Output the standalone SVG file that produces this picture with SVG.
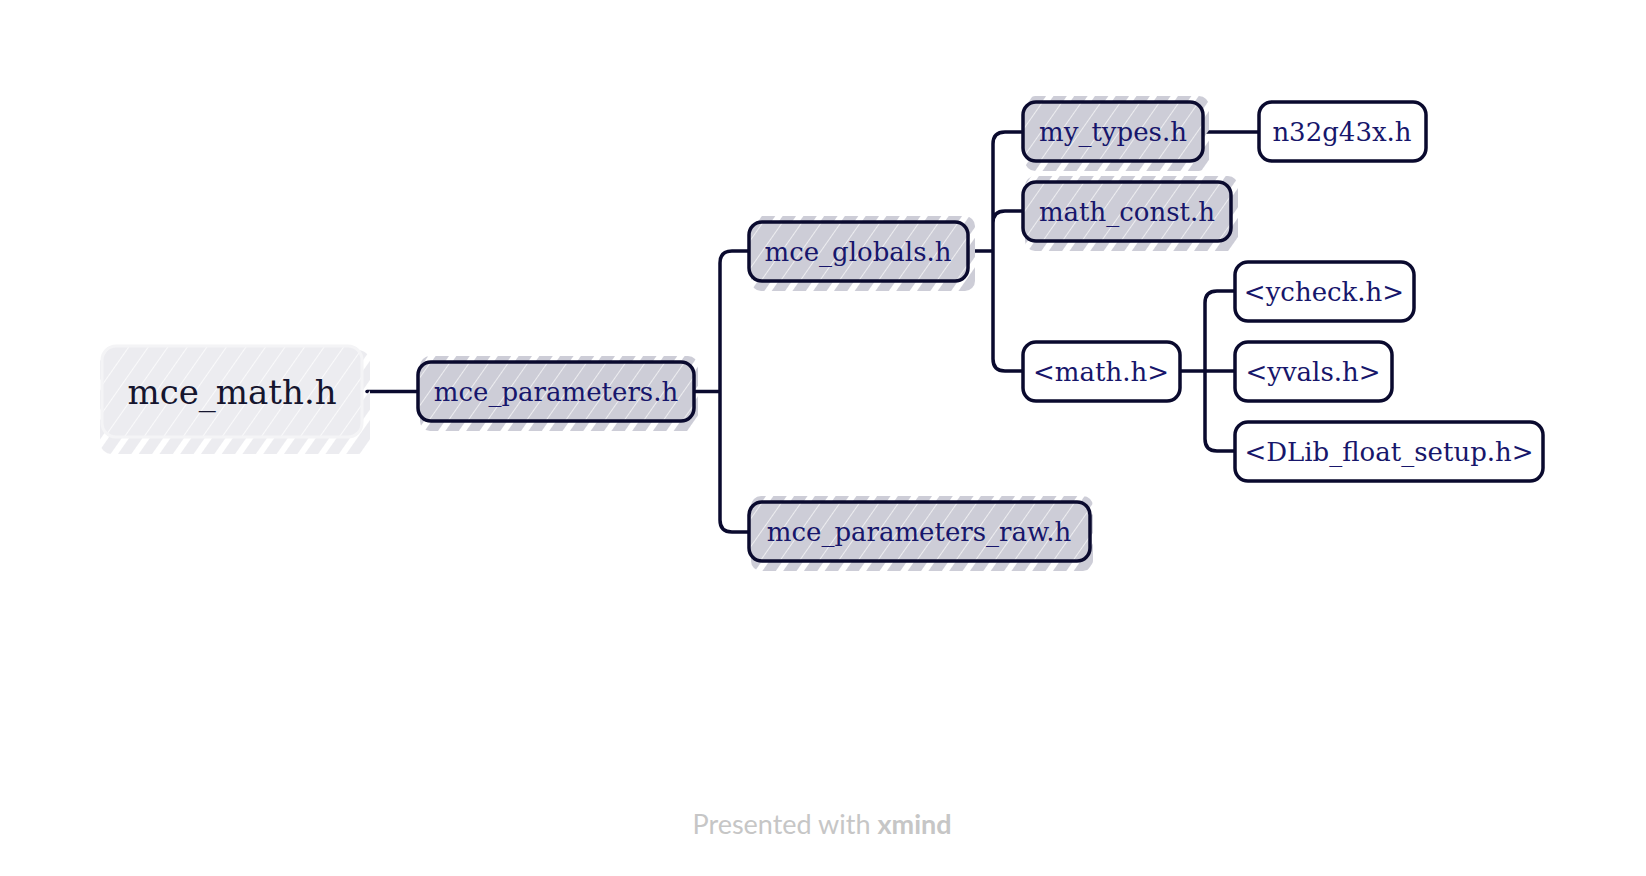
<svg xmlns="http://www.w3.org/2000/svg" width="1646" height="876" viewBox="0 0 1646 876">
<defs>
<pattern id="hatch" patternUnits="userSpaceOnUse" width="16" height="16" patternTransform="rotate(35)">
<rect width="16" height="16" fill="#cdcdd7"/>
<line x1="0" y1="0" x2="0" y2="16" stroke="#ffffff" stroke-width="1.6" opacity="0.8"/>
</pattern>
<pattern id="strip" patternUnits="userSpaceOnUse" width="17" height="17" patternTransform="rotate(35)">
<rect width="11" height="17" fill="#cdcdd7"/>
</pattern>
<pattern id="stripRoot" patternUnits="userSpaceOnUse" width="17" height="17" patternTransform="rotate(35)">
<rect width="11" height="17" fill="#ececf0"/>
</pattern>
<pattern id="hatchRoot" patternUnits="userSpaceOnUse" width="16" height="16" patternTransform="rotate(35)">
<rect width="16" height="16" fill="#ececf0"/>
<line x1="0" y1="0" x2="0" y2="16" stroke="#ffffff" stroke-width="1.6" opacity="0.9"/>
</pattern>
<style>
.box{stroke:#0a0a2e;stroke-width:3.5}
.sk{fill:url(#hatch)}
.st{fill:url(#strip)}
.wh{fill:#ffffff}
.lbl{font-family:"DejaVu Serif","Noto Serif",serif;font-size:26px;fill:#17166b;text-anchor:middle}
.root{font-family:"DejaVu Serif","Noto Serif",serif;font-size:34px;fill:#15152e;text-anchor:middle}
.conn{fill:none;stroke:#0a0a2e;stroke-width:3.5;stroke-linecap:round}
.foot{font-family:"Lato","Open Sans",sans-serif;font-size:27px;fill:#c6c6c6;text-anchor:middle}
</style>
</defs>
<rect width="1646" height="876" fill="#ffffff"/>
<g id="connectors">
<path class="conn" d="M367,391.5 H418"/>
<path class="conn" d="M694,391.5 H720 M720,391.5 V263 Q720,251 732,251 H749 M720,391.5 V520 Q720,532 732,532 H749"/>
<path class="conn" d="M968,251 H993 M993,251 V144 Q993,132 1005,132 H1023 M993,251 V223 Q993,211 1005,211 H1023 M993,251 V359 Q993,371 1005,371 H1023"/>
<path class="conn" d="M1203,132 H1259"/>
<path class="conn" d="M1180,371 H1235 M1205,371 V303 Q1205,291 1217,291 H1235 M1205,371 V439 Q1205,451 1217,451 H1235"/>
</g>
<g id="node-root">
<rect x="100" y="350" width="270" height="104" rx="12" fill="url(#stripRoot)"/>
<rect x="102" y="346" width="260" height="91" rx="14" fill="url(#hatchRoot)" stroke="#f4f4f6" stroke-width="3"/>
<text class="root" x="232" y="404">mce_math.h</text>
</g>
<g id="node-mce_parameters">
<rect class="st" x="420" y="356" width="278" height="75" rx="10"/>
<rect class="box sk" x="418" y="362" width="276" height="59" rx="13"/>
<text class="lbl" x="556" y="401">mce_parameters.h</text>
</g>
<g id="node-mce_globals">
<rect class="st" x="751" y="216" width="224" height="75" rx="10"/>
<rect class="box sk" x="749" y="222" width="219" height="59" rx="13"/>
<text class="lbl" x="858" y="261">mce_globals.h</text>
</g>
<g id="node-mce_parameters_raw">
<rect class="st" x="751" y="496" width="342" height="75" rx="10"/>
<rect class="box sk" x="749" y="502" width="341" height="59" rx="13"/>
<text class="lbl" x="919" y="541">mce_parameters_raw.h</text>
</g>
<g id="node-my_types">
<rect class="st" x="1025" y="96" width="184" height="75" rx="10"/>
<rect class="box sk" x="1023" y="102" width="180" height="59" rx="13"/>
<text class="lbl" x="1113" y="141">my_types.h</text>
</g>
<g id="node-math_const">
<rect class="st" x="1025" y="176" width="213" height="75" rx="10"/>
<rect class="box sk" x="1023" y="182" width="208" height="59" rx="13"/>
<text class="lbl" x="1127" y="221">math_const.h</text>
</g>
<g id="node-math">
<rect class="box wh" x="1023" y="342" width="157" height="59" rx="13"/>
<text class="lbl" x="1101" y="381">&lt;math.h&gt;</text>
</g>
<g id="node-n32g43x">
<rect class="box wh" x="1259" y="102" width="167" height="59" rx="13"/>
<text class="lbl" x="1342" y="141">n32g43x.h</text>
</g>
<g id="node-ycheck">
<rect class="box wh" x="1235" y="262" width="179" height="59" rx="13"/>
<text class="lbl" x="1324" y="301">&lt;ycheck.h&gt;</text>
</g>
<g id="node-yvals">
<rect class="box wh" x="1235" y="342" width="157" height="59" rx="13"/>
<text class="lbl" x="1313" y="381">&lt;yvals.h&gt;</text>
</g>
<g id="node-dlib">
<rect class="box wh" x="1235" y="422" width="308" height="59" rx="13"/>
<text class="lbl" x="1389" y="461">&lt;DLib_float_setup.h&gt;</text>
</g>
<text class="foot" x="822" y="834">Presented with <tspan font-weight="bold">xmind</tspan></text>
</svg>
